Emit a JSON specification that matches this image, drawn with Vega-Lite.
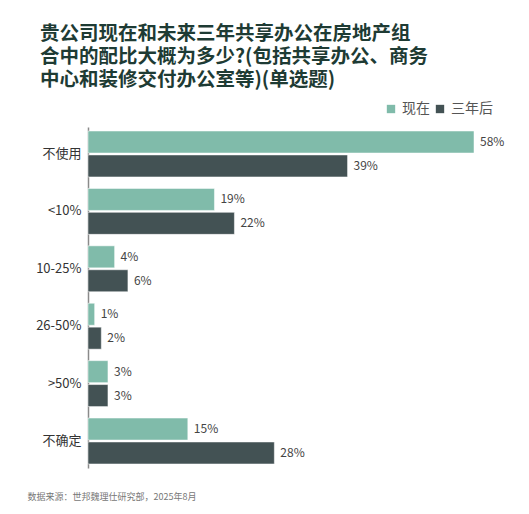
{
  "$schema": "https://vega.github.io/schema/vega-lite/v6.json",
  "autosize": "none",
  "width": 386,
  "height": 341,
  "padding": {"left": 88, "top": 127, "right": 55, "bottom": 46},
  "background": "white",
  "config": {
    "font": "Noto Sans CJK SC",
    "view": {"stroke": null}
  },
  "title": {
    "text": ["贵公司现在和未来三年共享办公在房地产组", "合中的配比大概为多少?(包括共享办公、商务", "中心和装修交付办公室等)(单选题)"],
    "anchor": "start",
    "frame": "group",
    "dx": -48,
    "offset": 12,
    "fontSize": 19.5,
    "fontWeight": "bold",
    "color": "#1e3b34",
    "lineHeight": 23
  },
  "data": {
    "values": [
      {"cat": "不使用", "series": "现在", "v": 58},
      {"cat": "不使用", "series": "三年后", "v": 39},
      {"cat": "<10%", "series": "现在", "v": 19},
      {"cat": "<10%", "series": "三年后", "v": 22},
      {"cat": "10-25%", "series": "现在", "v": 4},
      {"cat": "10-25%", "series": "三年后", "v": 6},
      {"cat": "26-50%", "series": "现在", "v": 1},
      {"cat": "26-50%", "series": "三年后", "v": 2},
      {"cat": ">50%", "series": "现在", "v": 3},
      {"cat": ">50%", "series": "三年后", "v": 3},
      {"cat": "不确定", "series": "现在", "v": 15},
      {"cat": "不确定", "series": "三年后", "v": 28}
    ]
  },
  "transform": [{"calculate": "datum.v + '%'", "as": "label"}],
  "encoding": {
    "y": {
      "field": "cat",
      "type": "nominal",
      "sort": ["不使用", "<10%", "10-25%", "26-50%", ">50%", "不确定"],
      "scale": {"paddingInner": 0.2, "paddingOuter": 0.07},
      "axis": {
        "title": null,
        "ticks": false,
        "labelPadding": 7,
        "labelFontSize": 13,
        "labelColor": "#333333",
        "domainColor": "#8a8a8a",
        "domainWidth": 1.5
      }
    },
    "yOffset": {
      "field": "series",
      "type": "nominal",
      "sort": ["现在", "三年后"],
      "scale": {"paddingInner": 0.08}
    },
    "x": {
      "field": "v",
      "type": "quantitative",
      "scale": {"domain": [0, 58], "nice": false},
      "axis": {
        "labels": false,
        "ticks": false,
        "grid": false,
        "domain": false,
        "title": "数据来源：世邦魏理仕研究部，2025年8月",
        "titleAnchor": "start",
        "titleAlign": "left",
        "titleBaseline": "middle",
        "titleX": -61,
        "titleY": 28,
        "titleFontSize": 9,
        "titleFontWeight": "normal",
        "titleColor": "#777777"
      }
    }
  },
  "layer": [
    {
      "mark": {"type": "bar", "stroke": "white", "strokeWidth": 0.5},
      "encoding": {
        "color": {
          "field": "series",
          "type": "nominal",
          "sort": ["现在", "三年后"],
          "scale": {"domain": ["现在", "三年后"], "range": ["#80bbaa", "#435254"]},
          "legend": {
            "title": null,
            "orient": "none",
            "direction": "horizontal",
            "legendX": 296,
            "legendY": -25,
            "symbolType": "square",
            "symbolSize": 70,
            "symbolStrokeWidth": 0,
            "labelFontSize": 14,
            "labelColor": "#555555",
            "columnPadding": 3,
            "labelOffset": 4
          }
        }
      }
    },
    {
      "mark": {"type": "text", "align": "left", "dx": 6, "fontSize": 12, "color": "#444444"},
      "encoding": {
        "text": {"field": "label", "type": "nominal"}
      }
    }
  ]
}
